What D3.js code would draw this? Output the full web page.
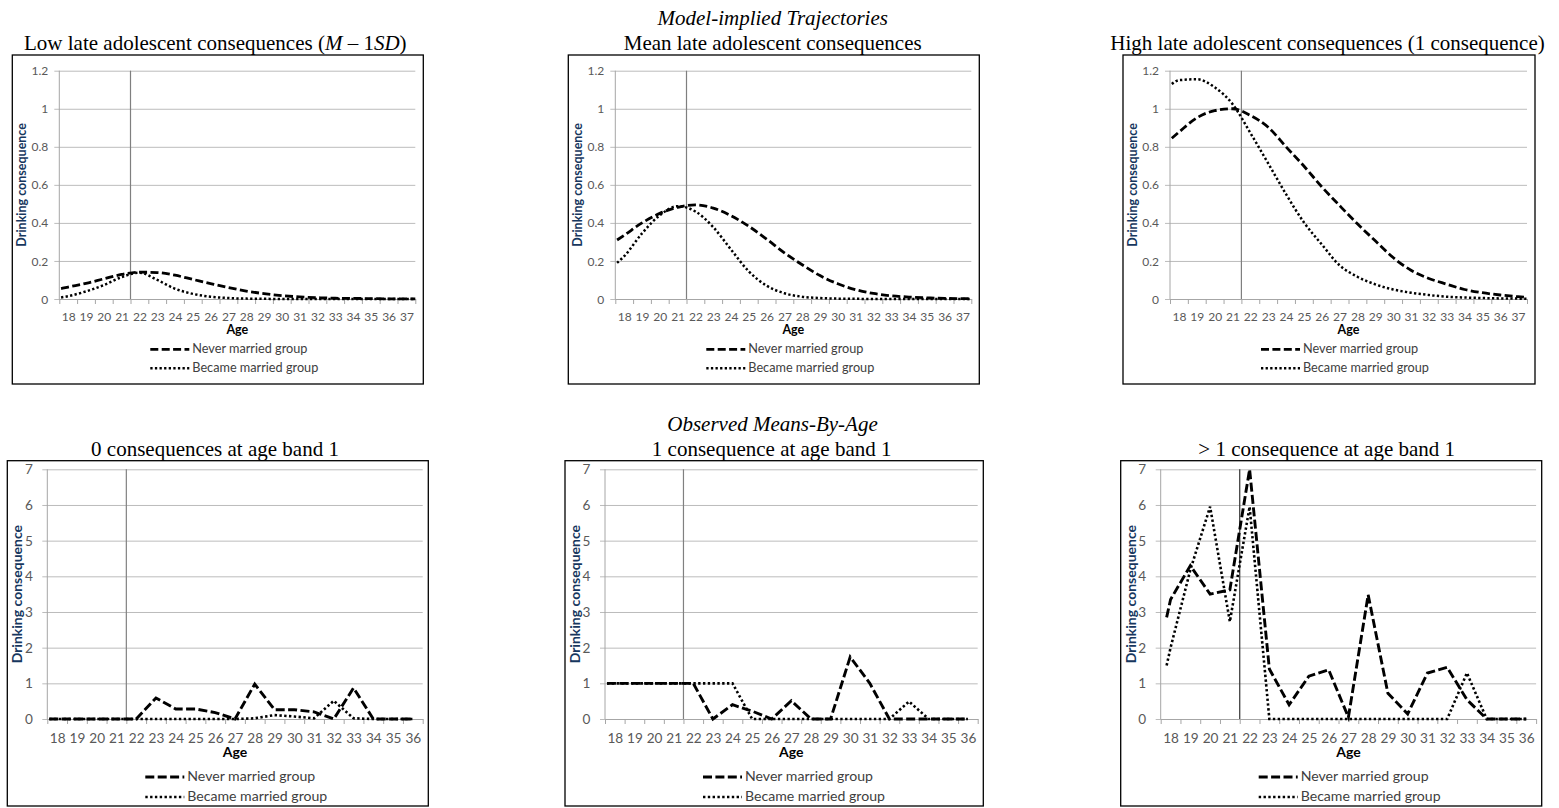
<!DOCTYPE html>
<html>
<head>
<meta charset="utf-8">
<script src="https://cdn.jsdelivr.net/npm/d3@7"></script>
<style>
  body { margin: 0; background: #fff; }
  svg { display: block; }
</style>
</head>
<body>
<svg id="chart" width="1559" height="808"></svg>
<script>
// ---------- Model-implied trajectories (smooth curves) ----------
const modelAges = [17.6, 18, 19, 20, 21, 22, 23, 24, 25, 26, 27, 28, 29, 30, 31, 32, 33, 34, 35, 36, 37, 37.5];
const modelTickAges = [18, 19, 20, 21, 22, 23, 24, 25, 26, 27, 28, 29, 30, 31, 32, 33, 34, 35, 36, 37];
const modelYTicks = [0, 0.2, 0.4, 0.6, 0.8, 1, 1.2];

const lowNever   = [0.055, 0.063, 0.082, 0.106, 0.129, 0.141, 0.139, 0.125, 0.103, 0.081, 0.06, 0.042, 0.028, 0.018, 0.011, 0.007, 0.004, 0.003, 0.002, 0.001, 0.001, 0.001];
const lowMarried = [0.008, 0.015, 0.04, 0.073, 0.115, 0.138, 0.1, 0.054, 0.027, 0.012, 0.005, 0.002, 0.001, 0, 0, 0, 0, 0, 0, 0, 0, 0];

const meanNever   = [0.31, 0.335, 0.4, 0.45, 0.482, 0.495, 0.478, 0.438, 0.382, 0.315, 0.243, 0.18, 0.123, 0.08, 0.049, 0.029, 0.017, 0.01, 0.006, 0.003, 0.002, 0.001];
const meanMarried = [0.19, 0.225, 0.345, 0.44, 0.488, 0.46, 0.378, 0.26, 0.145, 0.07, 0.03, 0.012, 0.005, 0.002, 0.001, 0, 0, 0, 0, 0, 0, 0];

const highNever   = [0.845, 0.877, 0.952, 0.99, 1.0, 0.965, 0.903, 0.8, 0.699, 0.59, 0.491, 0.395, 0.306, 0.218, 0.151, 0.108, 0.078, 0.05, 0.033, 0.021, 0.012, 0.008];
const highMarried = [1.13, 1.15, 1.155, 1.113, 1.025, 0.873, 0.713, 0.551, 0.403, 0.287, 0.177, 0.117, 0.077, 0.05, 0.033, 0.021, 0.012, 0.008, 0.005, 0.003, 0.002, 0.001];

// ---------- Observed means by age ----------
const obsTickAges = [18, 19, 20, 21, 22, 23, 24, 25, 26, 27, 28, 29, 30, 31, 32, 33, 34, 35, 36];
const obsYTicks = [0, 1, 2, 3, 4, 5, 6, 7];

const zeroAges    = [17.6, 18, 19, 20, 21, 22, 23, 24, 25, 26, 27, 28, 29, 30, 31, 32, 33, 34, 35, 36];
const zeroNever   = [0, 0, 0, 0, 0, 0, 0.59, 0.28, 0.28, 0.18, 0, 0.98, 0.26, 0.26, 0.2, 0, 0.87, 0, 0, 0];
const zeroMarried = [0, 0, 0, 0, 0, 0, 0, 0, 0, 0, 0, 0.02, 0.11, 0.07, 0.02, 0.51, 0.02, 0, 0, 0];

const oneAges    = [17.6, 18, 19, 20, 21, 22, 23, 24, 25, 26, 27, 28, 29, 30, 31, 32, 33, 34, 35, 36];
const oneNever   = [1, 1, 1, 1, 1, 1, 0, 0.4, 0.22, 0, 0.51, 0, 0, 1.74, 1.0, 0, 0, 0, 0, 0];
const oneMarried = [1, 1, 1, 1, 1, 1, 1, 1, 0, 0, 0, 0, 0, 0, 0, 0, 0.49, 0, 0, 0];

const manyAges    = [17.8, 18, 19, 20, 21, 22, 23, 24, 25, 26, 27, 28, 29, 30, 31, 32, 33, 34, 35, 36];
const manyNever   = [2.85, 3.35, 4.3, 3.5, 3.62, 7.0, 1.4, 0.4, 1.2, 1.38, 0.05, 3.48, 0.72, 0.14, 1.29, 1.45, 0.54, 0, 0, 0];
const manyMarried = [1.5, 2.0, 4.18, 5.95, 2.73, 5.95, 0, 0, 0, 0, 0, 0, 0, 0, 0, 0, 1.29, 0, 0, 0];

const groupNames = ["Never married group", "Became married group"];
const transitionAge = 21.5;

// ---------- drawing ----------
const SERIF = "'Liberation Serif', 'Times New Roman', serif";
const SANS = "Lato, 'Open Sans', sans-serif";
const svg = d3.select("#chart");

const topRow = {
  fy: 55, fh: 329, padL: 47, padR: 8, plotTop: 70.7, plotBottom: 299,
  xDomain: [17.5, 37.5], xTicks: modelTickAges, yDomain: [0, 1.2], yTicks: modelYTicks,
  curve: d3.curveMonotoneX,
  tickFont: 12, labelFont: 12.5, legendFont: 12.7,
  yLabelGap: 11, xLabelDy: 21.7, ageDy: 35, legendDy: [54.3, 73.3], yTitleDx: 9.4,
  dash: "8,3.4", dot: "2.3,2.3", lineW: 2.8
};
const bottomRow = {
  fy: 460.7, fh: 345.3, padL: 40, padR: 5.6, plotTop: 469.3, plotBottom: 719,
  xDomain: [17.5, 36.5], xTicks: obsTickAges, yDomain: [0, 7], yTicks: obsYTicks,
  curve: d3.curveLinear,
  tickFont: 13.6, labelFont: 14, legendFont: 14.1,
  yLabelGap: 14.5, xLabelDy: 24.3, ageDy: 38.3, legendDy: [62, 82], yTitleDx: 10,
  dash: "9,3.4", dot: "2.4,2.4", lineW: 2.9
};

const panels = [
  Object.assign({}, topRow, { fx: 12.3, fw: 411, titleX: 215.3, ages: modelAges, never: lowNever, married: lowMarried, refColor: "#7f7f7f",
    title: [["Low late adolescent consequences (", false], ["M", true], [" \u2013 1", false], ["SD", true], [")", false]] }),
  Object.assign({}, topRow, { fx: 568.3, fw: 411, titleX: 772.7, ages: modelAges, never: meanNever, married: meanMarried, refColor: "#7f7f7f",
    title: [["Mean late adolescent consequences", false]] }),
  Object.assign({}, topRow, { fx: 1123, fw: 412, titleX: 1327.5, ages: modelAges, never: highNever, married: highMarried, refColor: "#7f7f7f",
    title: [["High late adolescent consequences (1 consequence)", false]] }),
  Object.assign({}, bottomRow, { fx: 7.3, fw: 421, titleX: 215, ages: zeroAges, never: zeroNever, married: zeroMarried, refColor: "#808080",
    title: [["0 consequences at age band 1", false]] }),
  Object.assign({}, bottomRow, { fx: 565, fw: 418.3, titleX: 771.7, ages: oneAges, never: oneNever, married: oneMarried, refColor: "#808080",
    title: [["1 consequence at age band 1", false]] }),
  Object.assign({}, bottomRow, { fx: 1120.7, fw: 421, titleX: 1326.7, ages: manyAges, never: manyNever, married: manyMarried, refColor: "#333333",
    title: [["> 1 consequence at age band 1", false]] })
];

// section headings
svg.append("text").attr("x", 772.7).attr("y", 25).attr("text-anchor", "middle")
  .style("font-family", SERIF).style("font-size", "21px").style("font-style", "italic")
  .text("Model-implied Trajectories");
svg.append("text").attr("x", 772.5).attr("y", 430.7).attr("text-anchor", "middle")
  .style("font-family", SERIF).style("font-size", "21px").style("font-style", "italic")
  .text("Observed Means-By-Age");

function drawPanel(p) {
  const g = svg.append("g");
  const left = p.fx + p.padL, right = p.fx + p.fw - p.padR;
  const x = d3.scaleLinear().domain(p.xDomain).range([left, right]);
  const y = d3.scaleLinear().domain(p.yDomain).range([p.plotBottom, p.plotTop]);
  const y0 = y(0);

  // panel title
  const t = svg.append("text").attr("x", p.titleX).attr("y", p.fy - 5).attr("text-anchor", "middle")
    .style("font-family", SERIF).style("font-size", "21px").attr("fill", "#000");
  p.title.forEach(([s, it]) => t.append("tspan").style("font-style", it ? "italic" : "normal").text(s));

  // frame
  g.append("rect").attr("x", p.fx).attr("y", p.fy).attr("width", p.fw).attr("height", p.fh)
    .attr("fill", "#fff").attr("stroke", "#000").attr("stroke-width", 1.3);

  // horizontal gridlines and value labels
  g.append("g").attr("transform", `translate(${left - 5},0)`)
    .call(d3.axisLeft(y).tickValues(p.yTicks).tickFormat(d3.format("~g"))
      .tickSizeInner(-(right - left + 5)).tickSizeOuter(0).tickPadding(p.yLabelGap - 5))
    .call(a => a.select(".domain").remove())
    .call(a => a.selectAll("line").attr("stroke", "#bcbcbc").attr("stroke-width", 1))
    .call(a => a.selectAll("text").attr("fill", "#595959").attr("dy", "0.34em")
      .style("font-family", SANS).style("font-size", p.tickFont + "px"));

  // vertical axis line
  g.append("line").attr("x1", left).attr("x2", left).attr("y1", y(p.yDomain[1])).attr("y2", y0)
    .attr("stroke", "#a6a6a6").attr("stroke-width", 1);

  // category axis: baseline with tick marks between ages
  const bounds = d3.range(p.xDomain[0], p.xDomain[1] + 0.01, 1);
  g.append("g").attr("transform", `translate(0,${y0})`)
    .call(d3.axisBottom(x).tickValues(bounds).tickFormat("").tickSizeInner(5).tickSizeOuter(0))
    .call(a => a.selectAll("line, path").attr("stroke", "#a6a6a6").attr("stroke-width", 1));

  // age labels
  g.append("g").attr("transform", `translate(0,${y0})`)
    .call(d3.axisBottom(x).tickValues(p.xTicks).tickFormat(d3.format("d")).tickSize(0))
    .call(a => a.select(".domain").remove())
    .call(a => a.selectAll("text").attr("y", p.xLabelDy).attr("dy", null).attr("fill", "#595959")
      .style("font-family", SANS).style("font-size", p.tickFont + "px"));

  // axis titles
  g.append("text").attr("x", (left + right) / 2).attr("y", y0 + p.ageDy).attr("text-anchor", "middle")
    .style("font-family", SANS).style("font-size", p.labelFont + "px").style("font-weight", "bold")
    .attr("fill", "#000").text("Age");
  const cy = (p.plotTop + p.plotBottom) / 2, cx = p.fx + p.yTitleDx;
  g.append("text").attr("transform", `translate(${cx},${cy}) rotate(-90)`).attr("text-anchor", "middle")
    .attr("dy", "0.35em")
    .style("font-family", SANS).style("font-size", p.labelFont + "px").style("font-weight", "bold")
    .attr("fill", "#17375e").text("Drinking consequence");

  // marriage reference line
  g.append("line").attr("x1", x(transitionAge)).attr("x2", x(transitionAge))
    .attr("y1", y(p.yDomain[1])).attr("y2", y0)
    .attr("stroke", p.refColor).attr("stroke-width", 1.2);

  // trajectories
  const line = d3.line().x((d, i) => x(p.ages[i])).y(d => y(d)).curve(p.curve);
  g.append("path").datum(p.married).attr("d", line).attr("fill", "none")
    .attr("stroke", "#000").attr("stroke-width", p.lineW - 0.3).attr("stroke-dasharray", p.dot);
  g.append("path").datum(p.never).attr("d", line).attr("fill", "none")
    .attr("stroke", "#000").attr("stroke-width", p.lineW).attr("stroke-dasharray", p.dash);

  // legend
  const styles = [p.dash, p.dot];
  groupNames.forEach((name, i) => {
    const by = y0 + p.legendDy[i];
    g.append("line").attr("x1", p.fx + 138).attr("x2", p.fx + 177)
      .attr("y1", by - 4).attr("y2", by - 4)
      .attr("stroke", "#000").attr("stroke-width", i === 0 ? p.lineW : p.lineW - 0.3)
      .attr("stroke-dasharray", styles[i]);
    g.append("text").attr("x", p.fx + 180).attr("y", by).attr("fill", "#404040")
      .style("font-family", SANS).style("font-size", p.legendFont + "px").text(name);
  });
}

panels.forEach(drawPanel);
</script>
</body>
</html>
